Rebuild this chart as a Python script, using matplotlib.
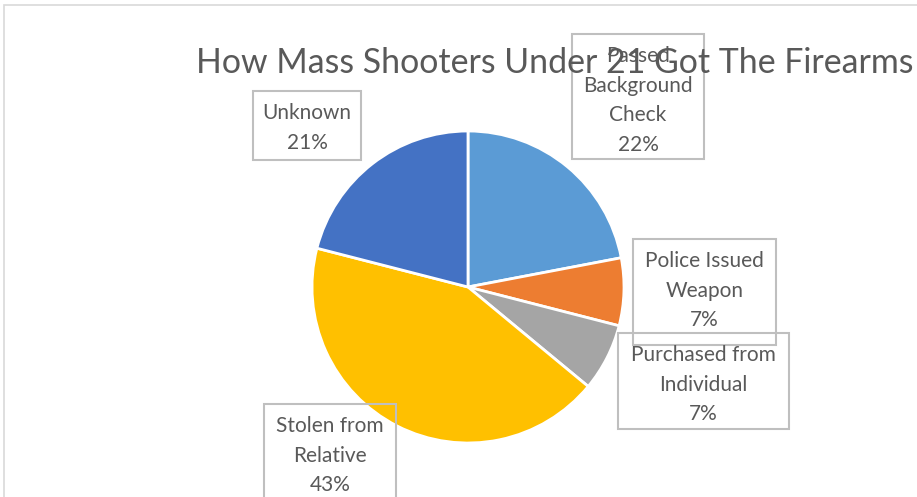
import matplotlib.pyplot as plt
from matplotlib.patches import Rectangle

categories = ["Passed\nBackground\nCheck", "Police Issued\nWeapon",
              "Purchased from\nIndividual", "Stolen from\nRelative", "Unknown"]
shares = [22, 7, 7, 43, 21]
colors = ["#5B9BD5", "#ED7D31", "#A5A5A5", "#FFC000", "#4472C4"]

W, H = 917, 497
plt.rcParams['font.family'] = ['Lato', 'DejaVu Sans']

fig = plt.figure(figsize=(W / 100, H / 100), dpi=100)
ax = fig.add_axes([0, 0, 1, 1])
ax.set_xlim(0, W)
ax.set_ylim(0, H)
ax.axis('off')


def py(y):
    # pixel row from top -> data y
    return H - y


# chart area border
ax.add_patch(Rectangle((4, py(600)), 1000, 595, fill=False, edgecolor="#D9D9D9", lw=1.2))

ax.pie(shares, colors=colors, startangle=90, counterclock=False,
       center=(468, py(287)), radius=156, frame=True,
       wedgeprops=dict(edgecolor="white", linewidth=2))
ax.set_xlim(0, W)
ax.set_ylim(0, H)
ax.set_aspect('auto')
ax.axis('off')

ax.text(555, py(63), "How Mass Shooters Under 21 Got The Firearms", ha='center', va='center',
        fontsize=24.4, color="#595959")

# label boxes (left, top, right, bottom) in pixels
boxes = [(572, 34, 704, 159), (633, 239, 776, 345), (618, 333, 789, 429),
         (264, 404, 396, 520), (253, 91, 361, 160)]
for cat, val, (x0, y0, x1, y1) in zip(categories, shares, boxes):
    ax.add_patch(Rectangle((x0, py(y1)), x1 - x0, y1 - y0, fill=False,
                           edgecolor="#BFBFBF", lw=1.5))
    ax.text((x0 + x1) / 2, py(y0 + 12), cat + "\n%d%%" % val, ha='center', va='top',
            fontsize=15, color="#595959", linespacing=1.6)

fig.savefig("out.png", dpi=100)
